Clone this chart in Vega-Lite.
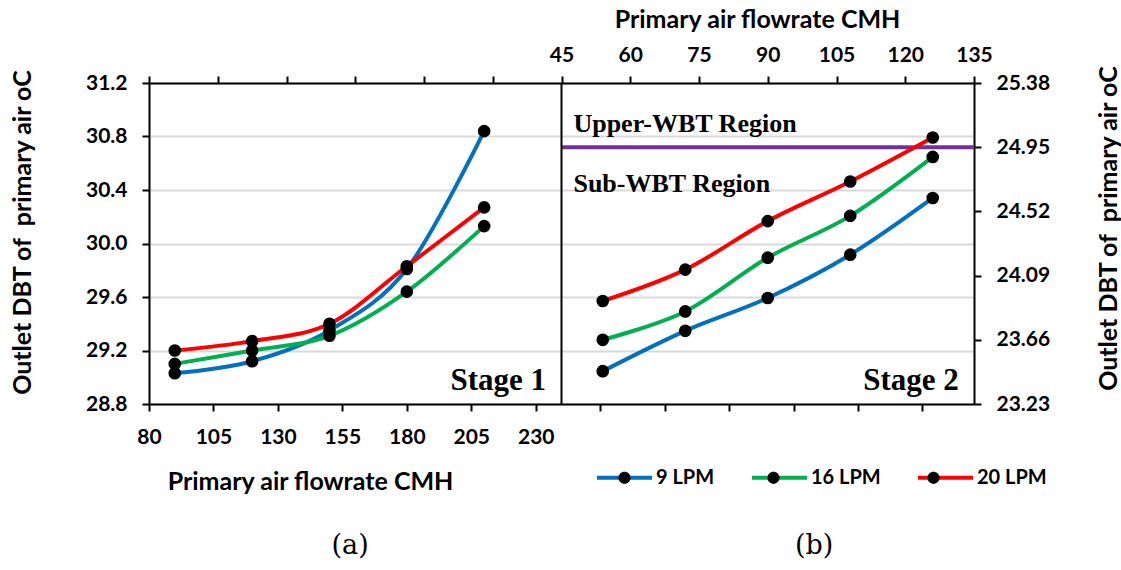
{
  "$schema": "https://vega.github.io/schema/vega-lite/v6.json",
  "width": 825,
  "height": 321,
  "autosize": {"type": "none"},
  "padding": {"left": 149, "top": 83, "right": 147, "bottom": 166},
  "background": "white",
  "datasets": {
    "stage1": [
      {"series": "9 LPM", "flow": 90, "dbt": 29.03},
      {"series": "9 LPM", "flow": 120, "dbt": 29.12},
      {"series": "9 LPM", "flow": 150, "dbt": 29.35},
      {"series": "9 LPM", "flow": 180, "dbt": 29.81},
      {"series": "9 LPM", "flow": 210, "dbt": 30.84},
      {"series": "16 LPM", "flow": 90, "dbt": 29.10},
      {"series": "16 LPM", "flow": 120, "dbt": 29.20},
      {"series": "16 LPM", "flow": 150, "dbt": 29.31},
      {"series": "16 LPM", "flow": 180, "dbt": 29.64},
      {"series": "16 LPM", "flow": 210, "dbt": 30.13},
      {"series": "20 LPM", "flow": 90, "dbt": 29.20},
      {"series": "20 LPM", "flow": 120, "dbt": 29.27},
      {"series": "20 LPM", "flow": 150, "dbt": 29.40},
      {"series": "20 LPM", "flow": 180, "dbt": 29.83},
      {"series": "20 LPM", "flow": 210, "dbt": 30.27}
    ],
    "stage2": [
      {"series": "9 LPM", "flow": 54, "dbt": 23.45},
      {"series": "9 LPM", "flow": 72, "dbt": 23.72},
      {"series": "9 LPM", "flow": 90, "dbt": 23.94},
      {"series": "9 LPM", "flow": 108, "dbt": 24.23},
      {"series": "9 LPM", "flow": 126, "dbt": 24.61},
      {"series": "16 LPM", "flow": 54, "dbt": 23.66},
      {"series": "16 LPM", "flow": 72, "dbt": 23.85},
      {"series": "16 LPM", "flow": 90, "dbt": 24.21},
      {"series": "16 LPM", "flow": 108, "dbt": 24.49},
      {"series": "16 LPM", "flow": 126, "dbt": 24.885},
      {"series": "20 LPM", "flow": 54, "dbt": 23.92},
      {"series": "20 LPM", "flow": 72, "dbt": 24.13},
      {"series": "20 LPM", "flow": 90, "dbt": 24.455},
      {"series": "20 LPM", "flow": 108, "dbt": 24.72},
      {"series": "20 LPM", "flow": 126, "dbt": 25.015}
    ]
  },
  "config": {
    "view": {"stroke": null},
    "axis": {
      "domainColor": "black",
      "domainWidth": 2,
      "tickColor": "black",
      "tickWidth": 2,
      "tickSize": 7,
      "labelFont": "Lato",
      "labelFontWeight": "bold",
      "labelFontSize": 21,
      "labelColor": "black",
      "titleFont": "Lato",
      "titleFontWeight": "bold",
      "titleFontSize": 25,
      "titleColor": "black",
      "grid": false,
      "labelFlush": false,
      "labelOverlap": false
    }
  },
  "resolve": {"scale": {"x": "independent", "y": "independent"}},
  "layer": [
    {
      "data": {"name": "stage1"},
      "layer": [
        {
          "mark": {"type": "line", "interpolate": "cardinal", "strokeWidth": 4},
          "encoding": {
            "x": {
              "field": "flow", "type": "quantitative",
              "scale": {"domain": [80, 400], "nice": false, "zero": false},
              "axis": {
                "orient": "bottom",
                "values": [80, 105, 130, 155, 180, 205, 230, 255, 280, 305, 330, 355, 380],
                "labelExpr": "datum.value <= 230 ? datum.label : ''",
                "labelPadding": 15,
                "title": "Primary air flowrate CMH",
                "titleX": 161,
                "titleY": 85,
                "titleAlign": "center",
                "titleBaseline": "alphabetic"
              }
            },
            "y": {
              "field": "dbt", "type": "quantitative",
              "scale": {"domain": [28.8, 31.2], "nice": false, "zero": false},
              "axis": {
                "orient": "left",
                "values": [28.8, 29.2, 29.6, 30.0, 30.4, 30.8, 31.2],
                "format": ".1f",
                "grid": true,
                "gridColor": "#D9D9D9",
                "gridWidth": 2,
                "labelPadding": 15,
                "title": "Outlet DBT of\u00a0 primary air oC",
                "titleAngle": 270,
                "titleX": -127,
                "titleY": 149,
                "titleAlign": "center",
                "titleBaseline": "middle"
              }
            },
            "color": {
              "field": "series", "type": "nominal",
              "scale": {"domain": ["9 LPM", "16 LPM", "20 LPM"], "range": ["#0070C0", "#00B050", "#FF0000"]},
              "legend": {
                "title": null,
                "orient": "none",
                "legendX": 446,
                "legendY": 365,
                "direction": "horizontal",
                "padding": 0,
                "symbolType": "stroke",
                "symbolSize": 3025,
                "symbolStrokeWidth": 4,
                "labelFont": "Lato",
                "labelFontWeight": "bold",
                "labelFontSize": 20,
                "labelColor": "black",
                "labelOffset": 2,
                "columnPadding": 29,
                "labelLimit": 300
              }
            }
          }
        },
        {
          "mark": {"type": "circle", "size": 160, "opacity": 1},
          "encoding": {
            "x": {"field": "flow", "type": "quantitative"},
            "y": {"field": "dbt", "type": "quantitative"},
            "fill": {
              "field": "series", "type": "nominal",
              "sort": ["9 LPM", "16 LPM", "20 LPM"],
              "scale": {"range": ["black", "black", "black"]},
              "legend": {
                "title": null,
                "orient": "none",
                "legendX": 446,
                "legendY": 365,
                "direction": "horizontal",
                "padding": 0,
                "symbolType": "M-0.22,0 A0.22,0.22 0 1,1 0.22,0 A0.22,0.22 0 1,1 -0.22,0 Z",
                "symbolSize": 3025,
                "symbolStrokeWidth": 4,
                "symbolStrokeColor": "transparent",
                "symbolFillColor": "black",
                "labelFont": "Lato",
                "labelFontWeight": "bold",
                "labelFontSize": 20,
                "labelOpacity": 0,
                "labelOffset": 2,
                "columnPadding": 29,
                "labelLimit": 300
              }
            }
          }
        },
        {
          "data": {"values": [{}]},
          "mark": {"type": "text", "text": "Stage 1", "font": "Liberation Serif", "fontWeight": "bold", "fontSize": 31, "align": "right", "baseline": "alphabetic", "color": "black"},
          "encoding": {"x": {"datum": 234, "type": "quantitative"}, "y": {"datum": 28.905, "type": "quantitative"}}
        },
        {
          "data": {"values": [{}]},
          "mark": {"type": "text", "text": "(a)", "font": "DejaVu Serif", "fontSize": 27, "align": "center", "baseline": "middle", "color": "black"},
          "encoding": {"x": {"datum": 158, "type": "quantitative"}, "y": {"datum": 27.738, "type": "quantitative"}}
        },
        {
          "data": {"values": [{}]},
          "mark": {"type": "text", "text": "(b)", "font": "DejaVu Serif", "fontSize": 27, "align": "center", "baseline": "middle", "color": "black"},
          "encoding": {"x": {"datum": 338, "type": "quantitative"}, "y": {"datum": 27.738, "type": "quantitative"}}
        }
      ]
    },
    {
      "data": {"name": "stage2"},
      "layer": [
        {
          "data": {"values": [{}]},
          "mark": {"type": "rule", "color": "#7030A0", "strokeWidth": 4},
          "encoding": {
            "x": {"datum": 45, "type": "quantitative"},
            "x2": {"datum": 135},
            "y": {"datum": 24.95, "type": "quantitative"}
          }
        },
        {
          "mark": {"type": "line", "interpolate": "cardinal", "strokeWidth": 4},
          "encoding": {
            "x": {
              "field": "flow", "type": "quantitative",
              "scale": {"domain": [-45, 135], "nice": false, "zero": false},
              "axis": {
                "orient": "top",
                "values": [-45, -30, -15, 0, 15, 30, 45, 60, 75, 90, 105, 120, 135],
                "labelExpr": "datum.value >= 45 ? datum.label : ''",
                "labelPadding": 11,
                "title": "Primary air flowrate CMH",
                "titleX": 608,
                "titleY": -56,
                "titleAlign": "center",
                "titleBaseline": "alphabetic"
              }
            },
            "y": {
              "field": "dbt", "type": "quantitative",
              "scale": {"domain": [23.23, 25.38], "nice": false, "zero": false},
              "axis": {
                "orient": "right",
                "values": [23.23, 23.66, 24.09, 24.52, 24.95, 25.38],
                "format": ".2f",
                "grid": false,
                "labelPadding": 15,
                "title": "Outlet DBT of\u00a0 primary air oC",
                "titleAngle": 270,
                "titleX": 134,
                "titleY": 145,
                "titleAlign": "center",
                "titleBaseline": "middle"
              }
            },
            "color": {"field": "series", "type": "nominal", "legend": null}
          }
        },
        {
          "mark": {"type": "circle", "size": 160, "opacity": 1},
          "encoding": {
            "x": {"field": "flow", "type": "quantitative"},
            "y": {"field": "dbt", "type": "quantitative"},
            "fill": {"field": "series", "type": "nominal", "sort": ["9 LPM", "16 LPM", "20 LPM"], "legend": null}
          }
        },
        {
          "data": {"values": [{}]},
          "mark": {"type": "rule", "color": "black", "strokeWidth": 2},
          "encoding": {"x": {"datum": 45, "type": "quantitative"}}
        },
        {
          "data": {"values": [{}]},
          "mark": {"type": "text", "text": "Stage 2", "font": "Liberation Serif", "fontWeight": "bold", "fontSize": 31, "align": "right", "baseline": "alphabetic", "color": "black"},
          "encoding": {"x": {"datum": 131.7, "type": "quantitative"}, "y": {"datum": 23.324, "type": "quantitative"}}
        },
        {
          "data": {"values": [{}]},
          "mark": {"type": "text", "text": "Upper-WBT Region", "font": "Liberation Serif", "fontWeight": "bold", "fontSize": 26, "align": "left", "baseline": "alphabetic", "color": "black"},
          "encoding": {"x": {"datum": 47.6, "type": "quantitative"}, "y": {"datum": 25.05, "type": "quantitative"}}
        },
        {
          "data": {"values": [{}]},
          "mark": {"type": "text", "text": "Sub-WBT Region", "font": "Liberation Serif", "fontWeight": "bold", "fontSize": 26, "align": "left", "baseline": "alphabetic", "color": "black"},
          "encoding": {"x": {"datum": 47.6, "type": "quantitative"}, "y": {"datum": 24.648, "type": "quantitative"}}
        }
      ]
    }
  ]
}
